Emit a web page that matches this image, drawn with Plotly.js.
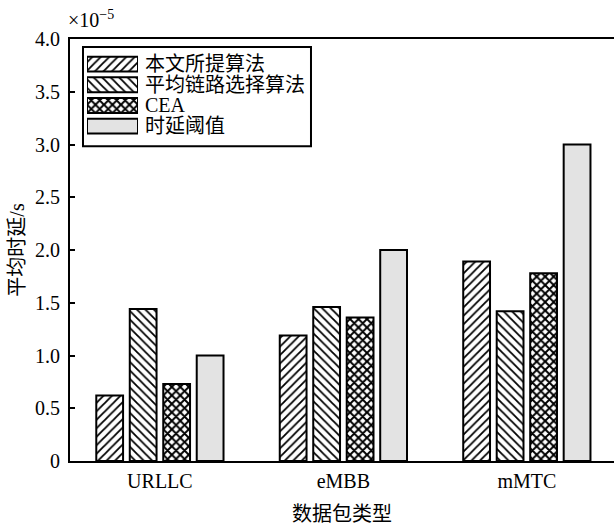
<!DOCTYPE html>
<html>
<head>
<meta charset="utf-8">
<script src="https://cdn.plot.ly/plotly-3.0.1.min.js"></script>
<style>html,body{margin:0;padding:0;background:#fff;}</style>
</head>
<body>
<div id="chart" style="width:614px;height:529px;"></div>
<script>
// ---- data ----
const categories = ["URLLC", "eMBB", "mMTC"];
const seriesNames = ["本文所提算法", "平均链路选择算法", "CEA", "时延阈值"];
const proposed = [0.62, 1.19, 1.89];
const avgLink = [1.44, 1.46, 1.42];
const cea = [0.73, 1.36, 1.78];
const threshold = [1.0, 2.0, 3.0];
const yTickVals = [0, 0.5, 1.0, 1.5, 2.0, 2.5, 3.0, 3.5, 4.0];
const yTickText = ["0", "0.5", "1.0", "1.5", "2.0", "2.5", "3.0", "3.5", "4.0"];
const xTitle = "数据包类型";
const yTitle = "平均时延/s";
const scaleLabel = "×10<sup>−5</sup>";

// ---- styles ----
const FONT = "Liberation Serif, Noto Sans CJK SC, serif";
const styles = [
  {color: "white", pattern: {shape: "/", size: 6, solidity: 0.3, fgcolor: "black", bgcolor: "white", fillmode: "replace"}},
  {color: "white", pattern: {shape: "\\", size: 6, solidity: 0.3, fgcolor: "black", bgcolor: "white", fillmode: "replace"}},
  {color: "white", pattern: {shape: "x", size: 6, solidity: 0.55, fgcolor: "black", bgcolor: "white", fillmode: "replace"}},
  {color: "#e3e3e3", pattern: {shape: ""}}
];
const seriesValues = [proposed, avgLink, cea, threshold];

const traces = seriesValues.map((vals, i) => ({
  type: "bar",
  x: categories,
  y: vals,
  name: seriesNames[i],
  showlegend: false,
  marker: Object.assign({line: {color: "black", width: 2}}, styles[i])
}));

// legend swatches drawn as an inset horizontal bar chart
const legendRows = seriesNames.map((_, i) => i);
seriesNames.forEach((nm, i) => {
  traces.push({
    type: "bar",
    orientation: "h",
    x: [1],
    y: [legendRows[i]],
    base: 0,
    width: 0.72,
    xaxis: "x2",
    yaxis: "y2",
    showlegend: false,
    hoverinfo: "skip",
    marker: Object.assign({line: {color: "black", width: 2}}, styles[i])
  });
});

const annotations = seriesNames.map((nm, i) => ({
  xref: "x2", yref: "y2", x: 1, y: legendRows[i],
  xanchor: "left", yanchor: "middle", xshift: 5,
  text: nm, showarrow: false,
  font: {family: FONT, size: 20, color: "black"}
}));
annotations.push({
  xref: "paper", yref: "paper", x: 0, y: 1,
  xanchor: "left", yanchor: "bottom", yshift: 6, xshift: -4,
  text: scaleLabel, showarrow: false,
  font: {family: FONT, size: 20, color: "black"}
});

const layout = {
  width: 614, height: 529,
  margin: {l: 70, r: 0, t: 39, b: 68},
  paper_bgcolor: "white", plot_bgcolor: "white",
  font: {family: FONT, size: 20, color: "black"},
  barmode: "group",
  bargap: 0.27,
  bargroupgap: 0.2,
  showlegend: false,
  xaxis: {
    range: [-0.49, 2.475],
    showline: true, linecolor: "black", linewidth: 2, mirror: true,
    ticks: "", showgrid: false, zeroline: false,
    tickfont: {family: FONT, size: 20},
    ticklabelstandoff: 1,
    title: {text: xTitle, font: {family: FONT, size: 20}, standoff: 16}
  },
  yaxis: {
    range: [0, 4],
    tickvals: yTickVals, ticktext: yTickText,
    showline: true, linecolor: "black", linewidth: 2,
    ticks: "inside", ticklen: 5, tickwidth: 2, tickcolor: "black",
    showgrid: false, zeroline: false,
    tickfont: {family: FONT, size: 20},
    ticklabelstandoff: 4,
    title: {text: yTitle, font: {family: FONT, size: 20}, standoff: 5}
  },
  xaxis2: {
    domain: [0.03125, 0.125], range: [0, 1], anchor: "y2",
    visible: false, fixedrange: true
  },
  yaxis2: {
    domain: [0.769, 0.965], range: [3.5, -0.5], anchor: "x2",
    visible: false, fixedrange: true
  },
  shapes: [{
    type: "rect", xref: "paper", yref: "paper",
    x0: 0.0239, x1: 0.443, y0: 0.746, y1: 0.981,
    line: {color: "black", width: 2}, fillcolor: "rgba(0,0,0,0)", layer: "below"
  }],
  annotations: annotations
};

Plotly.newPlot("chart", traces, layout, {staticPlot: true, displayModeBar: false});
</script>
</body>
</html>
